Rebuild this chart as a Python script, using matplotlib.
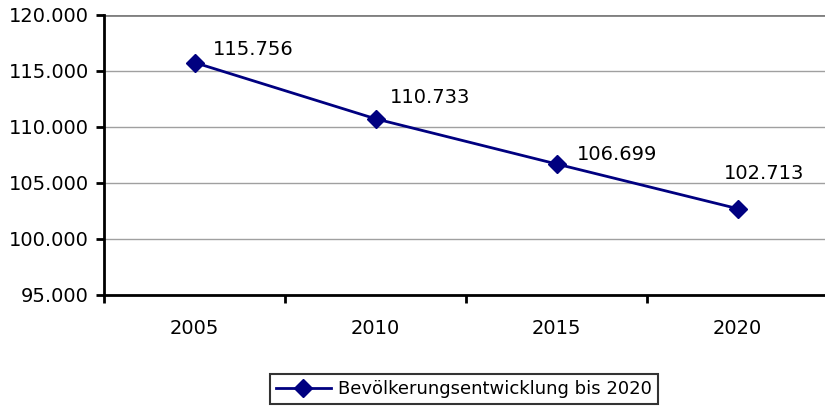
import matplotlib
matplotlib.use("Agg")
import matplotlib.pyplot as plt

years = ["2005", "2010", "2015", "2020"]
population = [115756, 110733, 106699, 102713]
value_labels = ["115.756", "110.733", "106.699", "102.713"]
ytick_values = [95000, 100000, 105000, 110000, 115000, 120000]
ytick_labels = ["95.000", "100.000", "105.000", "110.000", "115.000", "120.000"]
series_name = "Bevölkerungsentwicklung bis 2020"

# label offsets in pixels (dx, dy) relative to the points
label_offsets = [(18, 4), (14, 12), (20, 0), (-14, 26)]

plt.rcParams["font.family"] = ["DejaVu Sans"]
navy = "#000080"
fs = 14

fig = plt.figure(figsize=(8.25, 4.08), dpi=100)
ax = fig.add_axes([104 / 825, 113 / 408, 724 / 825, 280 / 408])

x = list(range(len(years)))
(line,) = ax.plot(x, population, color=navy, lw=2, marker="D", ms=9,
                  label=series_name, clip_on=False, zorder=3)

for xi, yi, lab, (dx, dy) in zip(x, population, value_labels, label_offsets):
    ax.annotate(lab, (xi, yi), xytext=(dx * 0.72, dy * 0.72),
                textcoords="offset points", ha="left", va="bottom",
                fontsize=fs, color="black")

ax.set_xlim(-0.5, len(years) - 0.5)
ax.set_ylim(95000, 120000)
ax.set_yticks(ytick_values)
ax.set_yticklabels(ytick_labels, fontsize=fs)
ax.set_xticks([i - 0.5 for i in range(len(years) + 1)])
ax.set_xticklabels([])
ax.set_xticks(x, minor=True)
ax.set_xticklabels(years, minor=True, fontsize=fs)
ax.tick_params(axis="x", which="minor", length=0, pad=17)
ax.tick_params(axis="both", which="major", length=6, width=2, direction="out")
ax.tick_params(axis="y", pad=5)

ax.grid(axis="y", color="#a0a0a0", lw=1)
ax.set_axisbelow(True)
for side in ["top", "right"]:
    ax.spines[side].set_visible(False)
ax.spines["left"].set_linewidth(2)
ax.spines["bottom"].set_linewidth(2)
ax.axhline(120000, color="#808080", lw=2, zorder=1)

leg = fig.legend(handles=[line], loc="center", bbox_to_anchor=(464 / 825, 1 - 389 / 408),
                 prop={"size": 13}, frameon=True, fancybox=False, handlelength=3.0,
                 borderpad=0.35, handletextpad=0.4, borderaxespad=0)
leg.get_frame().set_edgecolor("black")
leg.get_frame().set_linewidth(1.5)

fig.savefig("out.png", dpi=100)
